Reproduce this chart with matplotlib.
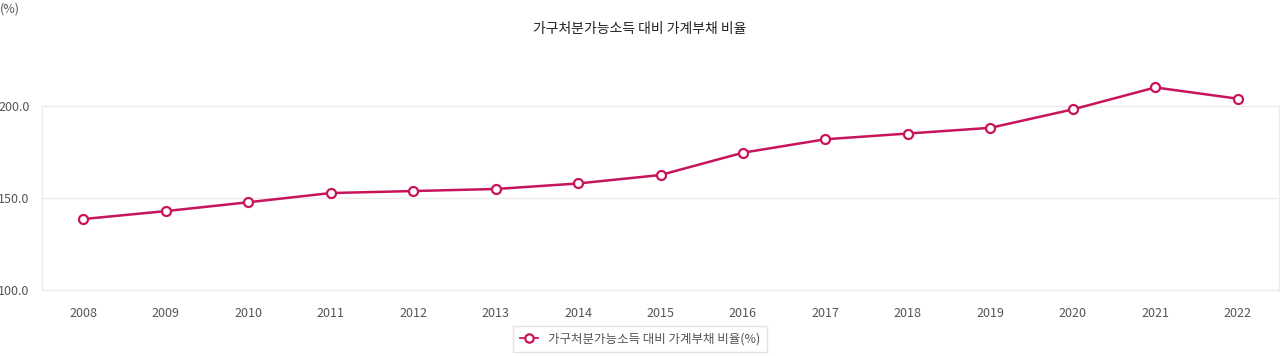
import matplotlib
matplotlib.use("Agg")
from matplotlib import pyplot as plt
import numpy as np

plt.rcParams['font.family'] = ['Noto Sans CJK KR', 'DejaVu Sans']

# 가구처분가능소득 대비 가계부채 비율 (%)
years = ['2008', '2009', '2010', '2011', '2012', '2013', '2014', '2015',
         '2016', '2017', '2018', '2019', '2020', '2021', '2022']
ratio = [138.5, 142.8, 147.6, 152.6, 153.7, 154.8, 157.8, 162.4,
         174.5, 181.8, 184.9, 188.0, 198.0, 209.9, 203.8]
y_ticks = [100.0, 150.0, 200.0]

line_color = '#c8145a'
grid_color = '#ececec'
text_color = '#555555'

fig = plt.figure(figsize=(12.8, 3.56), dpi=100)
ax = fig.add_axes([42/1280, 1-290/356, 1237/1280, (290-105.7)/356])

x = np.arange(len(years))
ax.plot(x, ratio, color=line_color, lw=1.8, marker='o', ms=6.5,
        mfc='white', mec=line_color, mew=1.6, clip_on=False, zorder=3,
        label='가구처분가능소득 대비 가계부채 비율(%)')

ax.set_xlim(-0.5, len(years) - 0.5)
ax.set_ylim(100, 200)
ax.set_xticks(x)
ax.set_xticklabels(years)
ax.set_yticks(y_ticks)
ax.set_yticklabels(['%.1f' % v for v in y_ticks])
ax.tick_params(length=0, labelsize=9, colors=text_color)
ax.tick_params(axis='x', pad=12)
ax.tick_params(axis='y', pad=9)

ax.grid(axis='y', color=grid_color, lw=1)
for s in ax.spines.values():
    s.set_color(grid_color)
    s.set_linewidth(1)

fig.text(0.5, 1-29/356, '가구처분가능소득 대비 가계부채 비율', ha='center', va='center',
         fontsize=10, color='#222222')
fig.text(0.0, 1-9/356, '(%)', ha='left', va='center', fontsize=9, color=text_color)

leg = fig.legend(loc='center', bbox_to_anchor=(0.5, 1-339/356), frameon=True,
                 fontsize=9, handlelength=1.5, borderpad=0.5, fancybox=False)
leg.get_frame().set_edgecolor('#dddddd')
leg.get_frame().set_linewidth(1)
leg.get_lines()[0].set_linewidth(1.3)
leg.get_lines()[0].set_markersize(6)
for t in leg.get_texts():
    t.set_color(text_color)

fig.savefig('out.png', dpi=100)
